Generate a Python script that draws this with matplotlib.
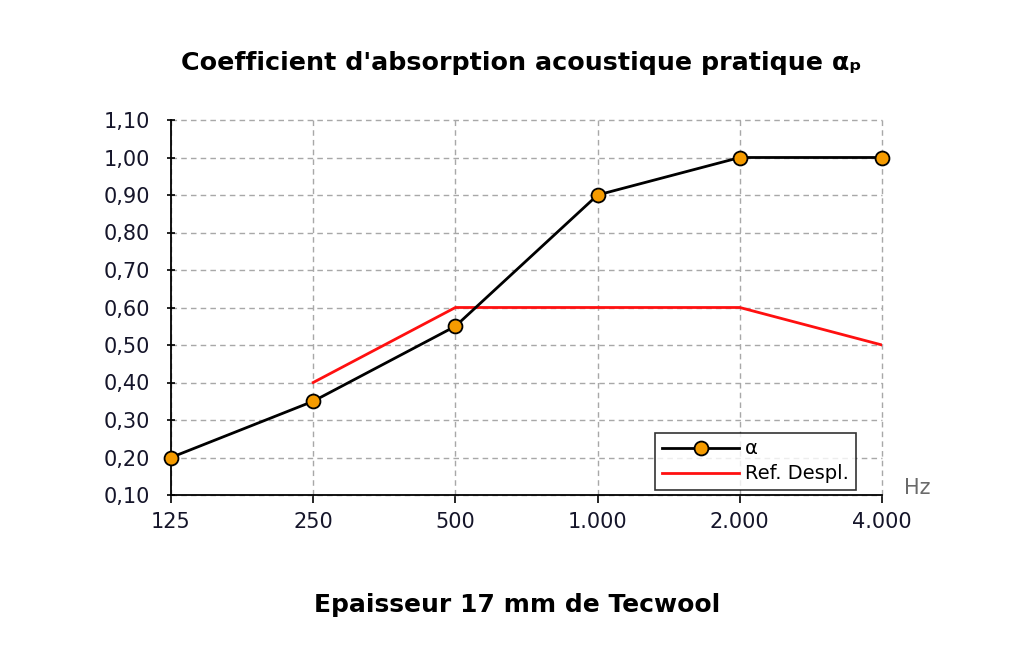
import matplotlib
matplotlib.use("Agg")
import matplotlib.pyplot as plt
import numpy as np

freqs = ["125", "250", "500", "1.000", "2.000", "4.000"]
alpha = [0.20, 0.35, 0.55, 0.90, 1.00, 1.00]
ref_freq_idx = [1, 2, 3, 4, 5]
ref_vals = [0.40, 0.60, 0.60, 0.60, 0.50]
yticks = [0.10, 0.20, 0.30, 0.40, 0.50, 0.60, 0.70, 0.80, 0.90, 1.00, 1.10]

fig = plt.figure(figsize=(10.24, 6.68), dpi=100)
ax = fig.add_axes([171/1024, 1-495/668, (882-171)/1024, (495-120)/668])

x = np.arange(len(freqs))
ax.plot(ref_freq_idx, ref_vals, color="#ff1010", lw=2, label="Ref. Despl.", zorder=3)
ax.plot(x, alpha, color="black", lw=2, marker="o", markersize=10,
        markerfacecolor="#f59b00", markeredgecolor="black", markeredgewidth=1.3,
        label="α", zorder=4, clip_on=False)

ax.set_xlim(0, 5)
ax.set_ylim(0.10, 1.10)
ax.set_xticks(x)
ax.set_xticklabels(freqs)
ax.set_yticks(yticks)
ax.set_yticklabels([f"{v:.2f}".replace(".", ",") for v in yticks])
ax.grid(True, color="#a8a8a8", ls=(0, (4, 3)), lw=1)
for gl in ax.get_xgridlines() + ax.get_ygridlines():
    gl.set_clip_on(False)
for s in ["top", "right"]:
    ax.spines[s].set_visible(False)
ax.spines["left"].set_linewidth(1.3)
ax.spines["bottom"].set_linewidth(1.3)
ax.tick_params(axis="both", labelsize=15, colors="black", labelcolor="#15152a",
               length=6, width=1.2, direction="inout")
ax.tick_params(axis="y", pad=12)
ax.tick_params(axis="x", direction="out", pad=6)

handles, labels = ax.get_legend_handles_labels()
leg = ax.legend(handles[::-1], labels[::-1], loc="lower right",
                bbox_to_anchor=((856-171)/711, 0.013), frameon=True,
                fancybox=False, edgecolor="black", fontsize=14, handlelength=4.0,
                borderpad=0.35, labelspacing=0.3, handletextpad=0.3,
                borderaxespad=0)
leg.get_frame().set_linewidth(1.2)

fig.text(917/1024, 1-488/668, "Hz", fontsize=15, color="#6a6a6a", ha="center", va="center")

fig.text(862/1024, 1-63/668, "Coefficient d'absorption acoustique pratique αₚ",
         ha="right", va="center", fontsize=18.3, fontweight="bold", family="DejaVu Sans",
         color="black")
fig.text(517/1024, 1-605/668, "Epaisseur 17 mm de Tecwool", ha="center", va="center",
         fontsize=18, fontweight="bold", family="DejaVu Sans", color="black")

fig.savefig("out.png", dpi=100)
